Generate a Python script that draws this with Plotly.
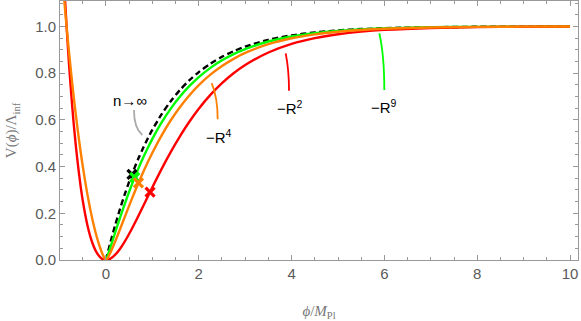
import plotly.graph_objects as go

# ---- data ----
phi_left = [-1.0, -0.95, -0.9, -0.85, -0.8, -0.75, -0.7, -0.65, -0.6, -0.55, -0.5,
            -0.4, -0.3, -0.2, -0.1, -0.05]
phi_right = [0.0, 0.05, 0.1, 0.2, 0.3, 0.4, 0.5, 0.6, 0.7, 0.8, 0.9, 1.0, 1.2, 1.4, 1.6,
             1.8, 2.0, 2.25, 2.5, 2.75, 3.0, 3.5, 4.0, 4.5, 5.0, 5.5, 6.0, 7.0, 8.0, 9.0, 10.0]

V_R2_left = [1.594, 1.374, 1.178, 1.004, 0.849, 0.714, 0.594, 0.490, 0.400, 0.321, 0.254,
             0.149, 0.077, 0.0315, 0.0072, 0.0017]
V_R4_left = [1.365, 1.236, 1.115, 1.002, 0.897, 0.799, 0.707, 0.622, 0.543, 0.469, 0.401,
             0.281, 0.181, 0.0997, 0.0374, 0.0145]

V_R2_right = [0.0, 0.0016, 0.0062, 0.0227, 0.0472, 0.0776, 0.1124, 0.1500, 0.1895, 0.2300,
              0.2708, 0.3114, 0.3901, 0.4640, 0.5317, 0.5929, 0.6475, 0.7068, 0.7571,
              0.7994, 0.8348, 0.8885, 0.9253, 0.9499, 0.9665, 0.9777, 0.9852, 0.9934,
              0.9971, 0.9987, 0.9994]
V_R4_right = [0.0, 0.0137, 0.0335, 0.0802, 0.1306, 0.1819, 0.2329, 0.2823, 0.3299, 0.3754,
              0.4186, 0.4594, 0.5339, 0.5994, 0.6563, 0.7057, 0.7485, 0.7935, 0.8307,
              0.8614, 0.8866, 0.9242, 0.9495, 0.9663, 0.9775, 0.9851, 0.9901, 0.9956,
              0.9981, 0.9991, 0.9996]
V_R9_right = [0.0, 0.0267, 0.0570, 0.1190, 0.1796, 0.2375, 0.2924, 0.3440, 0.3923, 0.4375,
              0.4797, 0.5188, 0.5890, 0.6493, 0.7010, 0.7452, 0.7831, 0.8227, 0.8551,
              0.8817, 0.9034, 0.9357, 0.9572, 0.9715, 0.9810, 0.9874, 0.9916, 0.9963,
              0.9984, 0.9993, 0.9997]
V_inf_right = [0.0, 0.0400, 0.0784, 0.1507, 0.2173, 0.2786, 0.3352, 0.3873, 0.4353, 0.4796,
               0.5204, 0.5580, 0.6246, 0.6812, 0.7292, 0.7700, 0.8047, 0.8407, 0.8701,
               0.8941, 0.9137, 0.9426, 0.9619, 0.9746, 0.9831, 0.9888, 0.9926, 0.9967,
               0.9986, 0.9994, 0.9997]

# end-of-inflation markers (phi, V)
mark_R2 = (0.95, 0.291)
mark_R4 = (0.70, 0.330)
mark_R9 = (0.62, 0.354)
mark_inf = (0.56, 0.367)

x_ticks = [0, 2, 4, 6, 8, 10]
y_ticks = [0.0, 0.2, 0.4, 0.6, 0.8, 1.0]
y_ticklabels = ["0.0", "0.2", "0.4", "0.6", "0.8", "1.0"]

RED = "#ff0000"
ORANGE = "#ff8000"
GREEN = "#00ff00"
BLACK = "#000000"
GRAY = "#999999"

fig = go.Figure()

def line(x, y, color, dash="solid", width=2.4):
    fig.add_trace(go.Scatter(x=x, y=y, mode="lines",
                             line=dict(color=color, width=width, dash=dash,
                                       shape="spline", smoothing=0.8),
                             hoverinfo="skip"))

line(phi_right, V_inf_right, BLACK, dash="6px,3.5px", width=2.4)
line(phi_right, V_R9_right, GREEN)
line(phi_left + phi_right, V_R2_left + V_R2_right, RED)
line(phi_left + phi_right, V_R4_left + V_R4_right, ORANGE)

for (px, py), c in [(mark_inf, BLACK), (mark_R9, GREEN), (mark_R4, ORANGE), (mark_R2, RED)]:
    fig.add_trace(go.Scatter(x=[px], y=[py], mode="markers",
                             marker=dict(symbol="x-thin", size=9,
                                         line=dict(color=c, width=3.2)),
                             hoverinfo="skip"))

# callout leader lines
callouts = [
    ("M 0.603,0.642 Q 0.603,0.565 0.782,0.535", "#aaaaaa"),
    ("M 2.278,0.757 Q 2.407,0.694 2.407,0.603", ORANGE),
    ("M 3.873,0.885 Q 3.944,0.814 3.944,0.725", RED),
    ("M 5.890,0.971 Q 5.998,0.878 5.998,0.728", GREEN),
]
for path, c in callouts:
    fig.add_shape(type="path", path=path, xref="x", yref="y",
                  line=dict(color=c, width=1.8))

labels = [
    ("n\u2192\u221e", 0.509, 0.685),
    ("\u2212R<sup>4</sup>", 2.435, 0.527),
    ("\u2212R<sup>2</sup>", 3.966, 0.652),
    ("\u2212R<sup>9</sup>", 5.99, 0.656),
]
for t, x, y in labels:
    fig.add_annotation(text=t, x=x, y=y, xref="x", yref="y", showarrow=False,
                       xanchor="center", yanchor="middle",
                       font=dict(family="Liberation Sans, Arial", size=15, color="black"))

axis_common = dict(
    showline=True, linecolor=GRAY, linewidth=1, mirror="ticks",
    ticks="inside", tickcolor=GRAY, ticklen=5, tickwidth=1,
    showgrid=False, zeroline=False, automargin=False,
    tickfont=dict(family="Liberation Sans, Arial", size=15, color="#5a5a5a"),
)

fig.update_xaxes(range=[-0.991, 10.172], tickvals=x_ticks,
                 minor=dict(dtick=0.5, tick0=0, ticks="inside", ticklen=3,
                            tickcolor=GRAY, showgrid=False),
                 title=dict(text="<i>\u03d5</i>/<i>M</i><sub>Pl</sub>",
                            font=dict(family="Liberation Serif, Times New Roman", size=15,
                                      color="#777777"),
                            standoff=26),
                 **axis_common)
fig.update_yaxes(range=[0, 1.109], tickvals=y_ticks, ticktext=y_ticklabels,
                 minor=dict(dtick=0.05, tick0=0, ticks="inside", ticklen=3,
                            tickcolor=GRAY, showgrid=False),
                 title=dict(text="V(<i>\u03d5</i>)/\u039b<sub>inf</sub>",
                            font=dict(family="Liberation Serif, Times New Roman", size=15,
                                      color="#777777"),
                            standoff=14),
                 **axis_common)

fig.update_layout(width=581, height=321, margin=dict(l=60, r=3, t=1, b=61),
                  plot_bgcolor="white", paper_bgcolor="white", showlegend=False)

fig.write_html("out.html", config={"displayModeBar": False},
               post_script="document.body.style.margin='0';document.body.style.overflow='hidden';")
